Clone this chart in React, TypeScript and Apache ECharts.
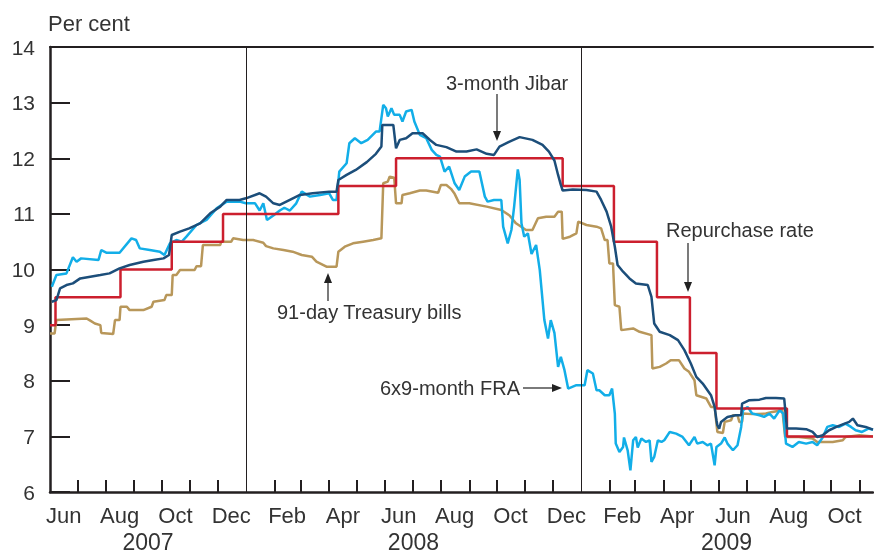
import React, { useEffect, useRef } from 'react';
import * as echarts from 'echarts';

// ---------- Data ----------
const repoDates = ['2007-06-01', '2007-06-07', '2007-08-17', '2007-10-12', '2007-12-07', '2008-04-11', '2008-06-13', '2008-12-12', '2009-02-06', '2009-03-25', '2009-04-30', '2009-05-29', '2009-08-14', '2009-11-16'];
const repoValues = [9.0, 9.5, 10.0, 10.5, 11.0, 11.5, 12.0, 11.5, 10.5, 9.5, 8.5, 7.5, 7.0, 7.0];

const fraDates = ['2007-06-03', '2007-06-08', '2007-06-19', '2007-06-26', '2007-06-30', '2007-07-05', '2007-07-24', '2007-07-27', '2007-08-02', '2007-08-16', '2007-08-29', '2007-09-03', '2007-09-07', '2007-09-18', '2007-09-29', '2007-10-04', '2007-10-10', '2007-10-17', '2007-10-23', '2007-10-28', '2007-11-08', '2007-11-19', '2007-11-30', '2007-12-11', '2007-12-25', '2008-01-01', '2008-01-11', '2008-01-16', '2008-01-20', '2008-01-24', '2008-01-31', '2008-02-07', '2008-02-12', '2008-02-18', '2008-02-25', '2008-03-02', '2008-03-11', '2008-03-22', '2008-04-01', '2008-04-05', '2008-04-09', '2008-04-12', '2008-04-20', '2008-04-23', '2008-04-29', '2008-05-06', '2008-05-13', '2008-05-22', '2008-05-26', '2008-05-30', '2008-06-02', '2008-06-04', '2008-06-08', '2008-06-11', '2008-06-17', '2008-06-20', '2008-06-24', '2008-06-30', '2008-07-03', '2008-07-09', '2008-07-16', '2008-07-22', '2008-07-27', '2008-07-31', '2008-08-05', '2008-08-10', '2008-08-16', '2008-08-21', '2008-08-27', '2008-09-03', '2008-09-12', '2008-09-18', '2008-09-21', '2008-09-28', '2008-10-06', '2008-10-08', '2008-10-13', '2008-10-17', '2008-10-20', '2008-10-24', '2008-10-26', '2008-10-28', '2008-10-31', '2008-11-04', '2008-11-08', '2008-11-13', '2008-11-17', '2008-11-22', '2008-11-26', '2008-11-29', '2008-12-03', '2008-12-07', '2008-12-10', '2008-12-14', '2008-12-18', '2008-12-27', '2009-01-05', '2009-01-08', '2009-01-14', '2009-01-18', '2009-01-21', '2009-01-27', '2009-02-01', '2009-02-04', '2009-02-07', '2009-02-08', '2009-02-12', '2009-02-16', '2009-02-17', '2009-02-21', '2009-02-24', '2009-02-27', '2009-03-02', '2009-03-04', '2009-03-08', '2009-03-13', '2009-03-17', '2009-03-19', '2009-03-22', '2009-03-26', '2009-03-30', '2009-04-02', '2009-04-08', '2009-04-15', '2009-04-22', '2009-04-29', '2009-05-05', '2009-05-08', '2009-05-14', '2009-05-19', '2009-05-23', '2009-05-27', '2009-05-29', '2009-06-03', '2009-06-07', '2009-06-10', '2009-06-16', '2009-06-21', '2009-06-25', '2009-06-27', '2009-07-02', '2009-07-07', '2009-07-15', '2009-07-20', '2009-07-26', '2009-07-31', '2009-08-06', '2009-08-10', '2009-08-13', '2009-08-20', '2009-08-27', '2009-09-04', '2009-09-11', '2009-09-16', '2009-09-22', '2009-09-27', '2009-10-03', '2009-10-10', '2009-10-17', '2009-10-23', '2009-10-28', '2009-11-04', '2009-11-11', '2009-11-16'];
const fraValues = [9.69, 9.90, 9.93, 10.22, 10.14, 10.20, 10.17, 10.35, 10.30, 10.30, 10.56, 10.53, 10.38, 10.35, 10.32, 10.26, 10.47, 10.53, 10.50, 10.59, 10.80, 10.89, 11.10, 11.22, 11.22, 11.19, 11.19, 11.06, 11.19, 10.89, 10.97, 11.06, 11.11, 11.06, 11.19, 11.40, 11.31, 11.34, 11.37, 11.25, 11.25, 11.76, 11.91, 12.27, 12.36, 12.27, 12.33, 12.48, 12.48, 12.96, 12.90, 12.75, 12.90, 12.78, 12.78, 12.66, 12.84, 12.87, 12.66, 12.42, 12.36, 12.15, 12.06, 12.03, 11.76, 11.85, 11.55, 11.43, 11.67, 11.76, 11.76, 11.31, 11.22, 11.25, 11.25, 10.77, 10.47, 10.71, 11.13, 11.80, 11.61, 10.83, 10.59, 10.65, 10.28, 10.44, 9.99, 9.09, 8.76, 9.09, 8.86, 8.25, 8.43, 8.19, 7.86, 7.92, 7.92, 8.19, 8.13, 7.83, 7.83, 7.74, 7.74, 7.86, 7.41, 6.87, 6.72, 6.81, 6.98, 6.75, 6.39, 6.93, 6.99, 6.80, 6.96, 6.90, 6.93, 6.54, 6.63, 6.93, 6.90, 6.93, 7.08, 7.05, 6.99, 6.84, 6.99, 6.87, 6.90, 6.84, 6.87, 6.48, 6.81, 6.87, 6.98, 6.87, 6.75, 6.84, 7.17, 7.47, 7.53, 7.41, 7.38, 7.35, 7.41, 7.32, 7.47, 7.41, 6.87, 6.81, 6.90, 6.87, 6.90, 6.84, 6.98, 7.17, 7.20, 7.17, 7.23, 7.17, 7.11, 7.08, 7.14, 7.12];

const jibarDates = ['2007-06-03', '2007-06-08', '2007-06-12', '2007-06-19', '2007-06-26', '2007-07-04', '2007-07-15', '2007-07-26', '2007-08-05', '2007-08-16', '2007-08-27', '2007-09-11', '2007-09-22', '2007-10-03', '2007-10-09', '2007-10-12', '2007-10-21', '2007-10-31', '2007-11-12', '2007-11-23', '2007-12-04', '2007-12-11', '2007-12-25', '2008-01-01', '2008-01-16', '2008-01-23', '2008-01-31', '2008-02-07', '2008-02-18', '2008-02-29', '2008-03-14', '2008-04-01', '2008-04-09', '2008-04-11', '2008-04-20', '2008-04-30', '2008-05-12', '2008-05-22', '2008-05-28', '2008-05-29', '2008-06-10', '2008-06-13', '2008-06-17', '2008-06-24', '2008-07-01', '2008-07-12', '2008-07-20', '2008-07-27', '2008-08-07', '2008-08-18', '2008-08-29', '2008-09-09', '2008-09-20', '2008-09-28', '2008-10-04', '2008-10-15', '2008-10-26', '2008-11-09', '2008-11-20', '2008-11-27', '2008-12-03', '2008-12-07', '2008-12-10', '2008-12-12', '2008-12-23', '2009-01-07', '2009-01-18', '2009-01-23', '2009-01-29', '2009-02-03', '2009-02-07', '2009-02-10', '2009-02-16', '2009-02-23', '2009-03-02', '2009-03-15', '2009-03-19', '2009-03-22', '2009-03-28', '2009-04-08', '2009-04-17', '2009-04-24', '2009-05-01', '2009-05-07', '2009-05-14', '2009-05-23', '2009-05-27', '2009-05-29', '2009-05-30', '2009-06-01', '2009-06-03', '2009-06-10', '2009-06-19', '2009-06-25', '2009-06-26', '2009-07-04', '2009-07-15', '2009-07-22', '2009-08-02', '2009-08-11', '2009-08-14', '2009-08-24', '2009-09-04', '2009-09-11', '2009-09-16', '2009-09-22', '2009-09-29', '2009-10-07', '2009-10-16', '2009-10-21', '2009-10-25', '2009-10-30', '2009-11-08', '2009-11-16'];
const jibarValues = [9.42, 9.45, 9.66, 9.72, 9.75, 9.84, 9.87, 9.90, 9.93, 10.02, 10.08, 10.14, 10.17, 10.20, 10.26, 10.62, 10.68, 10.74, 10.83, 11.01, 11.13, 11.25, 11.25, 11.28, 11.37, 11.31, 11.19, 11.16, 11.25, 11.34, 11.37, 11.40, 11.40, 11.61, 11.70, 11.79, 11.93, 12.08, 12.21, 12.60, 12.60, 12.18, 12.33, 12.36, 12.45, 12.45, 12.33, 12.24, 12.20, 12.12, 12.12, 12.16, 12.08, 12.06, 12.21, 12.30, 12.38, 12.33, 12.24, 12.12, 11.96, 11.70, 11.52, 11.42, 11.44, 11.43, 11.40, 11.25, 11.04, 10.77, 10.41, 10.08, 9.96, 9.84, 9.75, 9.72, 9.51, 9.03, 8.88, 8.82, 8.73, 8.55, 8.31, 8.07, 7.95, 7.74, 7.53, 7.29, 7.20, 7.14, 7.26, 7.35, 7.38, 7.38, 7.59, 7.65, 7.66, 7.69, 7.69, 7.68, 7.14, 7.14, 7.13, 7.08, 6.99, 7.02, 7.11, 7.17, 7.23, 7.26, 7.32, 7.20, 7.17, 7.12];

const tbillDates = ['2007-06-01', '2007-06-06', '2007-06-08', '2007-06-19', '2007-07-11', '2007-07-15', '2007-07-20', '2007-07-26', '2007-07-27', '2007-08-09', '2007-08-11', '2007-08-16', '2007-08-17', '2007-08-24', '2007-08-27', '2007-09-11', '2007-09-20', '2007-09-22', '2007-10-04', '2007-10-06', '2007-10-12', '2007-10-13', '2007-10-17', '2007-10-21', '2007-11-06', '2007-11-08', '2007-11-13', '2007-11-15', '2007-12-04', '2007-12-05', '2007-12-16', '2007-12-18', '2007-12-29', '2008-01-09', '2008-01-20', '2008-01-23', '2008-01-31', '2008-02-11', '2008-02-21', '2008-03-02', '2008-03-13', '2008-03-18', '2008-03-29', '2008-04-09', '2008-04-11', '2008-04-18', '2008-04-27', '2008-05-08', '2008-05-19', '2008-05-28', '2008-05-30', '2008-06-04', '2008-06-06', '2008-06-11', '2008-06-13', '2008-06-19', '2008-06-20', '2008-06-28', '2008-07-09', '2008-07-16', '2008-07-29', '2008-08-01', '2008-08-07', '2008-08-12', '2008-08-16', '2008-08-21', '2008-09-01', '2008-09-20', '2008-10-06', '2008-10-15', '2008-10-22', '2008-11-02', '2008-11-09', '2008-11-15', '2008-11-24', '2008-12-03', '2008-12-07', '2008-12-11', '2008-12-12', '2008-12-20', '2008-12-27', '2008-12-29', '2009-01-07', '2009-01-18', '2009-01-23', '2009-01-27', '2009-01-30', '2009-02-01', '2009-02-05', '2009-02-07', '2009-02-12', '2009-02-14', '2009-02-27', '2009-03-06', '2009-03-19', '2009-03-20', '2009-03-28', '2009-04-04', '2009-04-09', '2009-04-18', '2009-04-24', '2009-04-29', '2009-05-05', '2009-05-07', '2009-05-18', '2009-05-23', '2009-05-27', '2009-05-29', '2009-05-30', '2009-06-05', '2009-06-07', '2009-06-14', '2009-06-16', '2009-06-21', '2009-06-23', '2009-06-26', '2009-06-27', '2009-07-07', '2009-07-22', '2009-07-29', '2009-08-09', '2009-08-12', '2009-08-27', '2009-09-11', '2009-09-16', '2009-10-03', '2009-10-14', '2009-10-17', '2009-11-01', '2009-11-16'];
const tbillValues = [8.85, 8.85, 9.09, 9.10, 9.12, 9.08, 9.03, 9.00, 8.86, 8.84, 9.09, 9.09, 9.33, 9.33, 9.27, 9.27, 9.33, 9.42, 9.45, 9.54, 9.54, 9.90, 9.90, 9.99, 9.99, 10.06, 10.06, 10.44, 10.44, 10.50, 10.50, 10.56, 10.53, 10.53, 10.48, 10.42, 10.38, 10.35, 10.32, 10.26, 10.23, 10.14, 10.05, 10.05, 10.32, 10.41, 10.47, 10.50, 10.53, 10.56, 11.55, 11.58, 11.67, 11.65, 11.19, 11.19, 11.34, 11.37, 11.42, 11.42, 11.38, 11.52, 11.52, 11.45, 11.36, 11.19, 11.19, 11.13, 11.07, 10.97, 10.83, 10.71, 10.71, 10.92, 10.95, 10.95, 11.04, 11.04, 10.55, 10.59, 10.65, 10.86, 10.80, 10.77, 10.74, 10.53, 10.53, 10.11, 10.11, 9.36, 9.33, 8.91, 8.94, 8.88, 8.82, 8.22, 8.25, 8.31, 8.37, 8.37, 8.22, 8.16, 8.01, 7.74, 7.68, 7.53, 7.53, 7.23, 7.08, 7.06, 7.26, 7.29, 7.38, 7.38, 7.26, 7.26, 7.41, 7.40, 7.41, 7.44, 7.47, 6.99, 6.99, 6.96, 6.90, 6.90, 6.93, 6.99, 7.02, 7.00];

const monthNames = ['Jan', 'Feb', 'Mar', 'Apr', 'May', 'Jun', 'Jul', 'Aug', 'Sep', 'Oct', 'Nov', 'Dec'];
const monthTickDates = ['2007-07-01', '2007-08-01', '2007-09-01', '2007-10-01', '2007-11-01', '2007-12-01', '2008-02-01', '2008-03-01', '2008-04-01', '2008-05-01', '2008-06-01', '2008-07-01', '2008-08-01', '2008-09-01', '2008-10-01', '2008-11-01', '2008-12-01', '2009-02-01', '2009-03-01', '2009-04-01', '2009-05-01', '2009-06-01', '2009-07-01', '2009-08-01', '2009-09-01', '2009-10-01', '2009-11-01'];
const monthLabelDates = ['2007-06-16', '2007-08-16', '2007-10-16', '2007-12-16', '2008-02-15', '2008-04-16', '2008-06-16', '2008-08-16', '2008-10-16', '2008-12-16', '2009-02-15', '2009-04-16', '2009-06-16', '2009-08-16', '2009-10-16'];
const yearLabelDates = ['2007-09-16', '2008-07-02', '2009-06-09'];
const yearSeparatorDates = ['2008-01-01', '2009-01-01'];
const xMinDate = '2007-06-01';
const xMaxDate = '2009-11-16';

const t = (s: string) => Date.parse(s + 'T00:00:00Z');
const pairs = (d: string[], v: number[]) => d.map((s, i) => [t(s), v[i]]);

const FONT = '"Liberation Sans", Arial, Helvetica, sans-serif';
const TEXT = '#333333';
const AXIS = '#231f20';

export default function App() {
  const ref = useRef<HTMLDivElement>(null);
  useEffect(() => {
    if (!ref.current) return;
    const chart = echarts.init(ref.current, undefined, { renderer: 'svg' });
    const label = (text: string, x: number, y: number, size = 20) => ({
      type: 'text', x, y, silent: true,
      style: { text, fill: TEXT, fontSize: size, fontFamily: FONT, textAlign: 'left', textVerticalAlign: 'middle', align: 'left', verticalAlign: 'middle' },
    });
    const ln = (x1: number, y1: number, x2: number, y2: number) => ({
      type: 'line', silent: true, shape: { x1, y1, x2, y2 }, style: { stroke: '#222', lineWidth: 1.2 },
    });
    const head = (pts: number[][]) => ({ type: 'polygon', silent: true, shape: { points: pts }, style: { fill: '#222' } });

    chart.setOption({
      animation: false,
      grid: { left: 50, right: 1, top: 47, bottom: 61, containLabel: false },
      xAxis: [
        {
          type: 'value', min: t(xMinDate), max: t(xMaxDate), position: 'bottom',
          axisLine: { show: true, onZero: false, lineStyle: { color: AXIS, width: 2.5 } },
          axisTick: { show: true, inside: true, length: 12, customValues: monthTickDates.map(t), lineStyle: { color: AXIS, width: 2 } },
          axisLabel: {
            customValues: monthLabelDates.map(t), fontSize: 22, color: TEXT, fontFamily: FONT, margin: 12,
            formatter: (v: number) => monthNames[new Date(v).getUTCMonth()],
          },
          splitLine: { show: false },
        },
        {
          type: 'value', min: t(xMinDate), max: t(xMaxDate), position: 'bottom',
          axisLine: { show: false }, axisTick: { show: false },
          axisLabel: {
            customValues: yearLabelDates.map(t), fontSize: 23, color: TEXT, fontFamily: FONT, margin: 38,
            formatter: (v: number) => String(new Date(v).getUTCFullYear()),
          },
          splitLine: { show: false },
        },
        {
          type: 'value', min: t(xMinDate), max: t(xMaxDate), position: 'top',
          axisLine: { show: true, onZero: false, lineStyle: { color: AXIS, width: 2 } },
          axisTick: { show: false }, axisLabel: { show: false }, splitLine: { show: false },
        },
      ],
      yAxis: {
        type: 'value', min: 6, max: 14, interval: 1,
        axisLine: { show: true, lineStyle: { color: AXIS, width: 2.5 } },
        axisTick: { show: true, inside: true, length: 20, lineStyle: { color: AXIS, width: 2 } },
        axisLabel: { fontSize: 21, color: TEXT, fontFamily: FONT, margin: 15 },
        splitLine: { show: false },
      },
      series: [
        {
          name: '91-day Treasury bills', type: 'line', showSymbol: false, symbol: 'none',
          data: pairs(tbillDates, tbillValues), lineStyle: { color: '#b8975a', width: 2.5 },
          markLine: {
            silent: true, symbol: ['none', 'none'], label: { show: false },
            lineStyle: { color: AXIS, width: 1, type: 'solid' },
            data: yearSeparatorDates.map((d) => ({ xAxis: t(d) })),
          },
        },
        {
          name: '6x9-month FRA', type: 'line', showSymbol: false, symbol: 'none',
          data: pairs(fraDates, fraValues), lineStyle: { color: '#12aee8', width: 2.5 },
        },
        {
          name: 'Repurchase rate', type: 'line', showSymbol: false, symbol: 'none', step: 'end',
          data: pairs(repoDates, repoValues), lineStyle: { color: '#cc1f2e', width: 2.5 },
        },
        {
          name: '3-month Jibar', type: 'line', showSymbol: false, symbol: 'none',
          data: pairs(jibarDates, jibarValues), lineStyle: { color: '#1c4e7a', width: 2.5 },
        },
      ],
      graphic: [
        label('Per cent', 48, 23, 22),
        label('3-month Jibar', 446, 83),
        ln(497, 94, 497, 132), head([[493, 131], [501, 131], [497, 141]]),
        label('Repurchase rate', 666, 230),
        ln(688, 243, 688, 283), head([[684, 282], [692, 282], [688, 292]]),
        label('91-day Treasury bills', 277, 312),
        ln(328, 301, 328, 282), head([[324, 283], [332, 283], [328, 273]]),
        label('6x9-month FRA', 380, 388),
        ln(523, 388, 553, 388), head([[552, 384], [552, 392], [562, 388]]),
      ],
    });
    return () => chart.dispose();
  }, []);
  return <div ref={ref} style={{ position: 'fixed', left: 0, top: 0, width: 874, height: 553 }} />;
}
